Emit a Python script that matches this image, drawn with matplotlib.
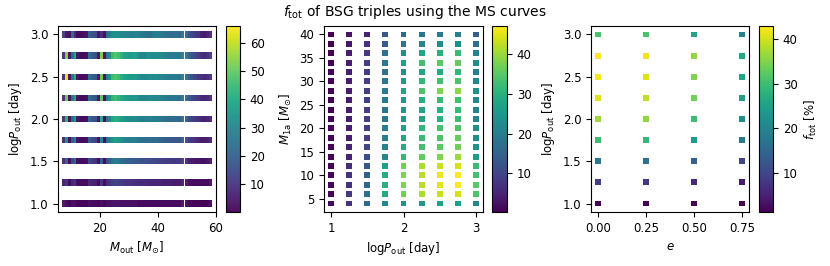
"""
ftot_triples.py
---------------
Three-panel scatter of the total fraction f_tot of BSG triples
(MS curves), against M_out, M_1a and e.
"""

import numpy as np
import matplotlib
matplotlib.use("Agg")  # headless backend
import matplotlib.pyplot as plt


# --- shared grids ------------------------------------------------------------
log_p_out = [1.0, 1.25, 1.5, 1.75, 2.0, 2.25, 2.5, 2.75, 3.0]

# --- panel 1: f_tot vs M_out for each logP_out -------------------------------
m_out = [8, 9, 10, 11, 12, 13, 14, 15, 16, 17, 18, 19, 20, 21, 22, 23,
         24, 25, 26, 27, 28, 29, 30, 31, 32, 33, 34, 35, 36, 37, 38, 39,
         40, 41, 42, 43, 44, 45, 46, 47, 48,
         50.5, 51.5, 52.5, 53.5, 54.5, 55.5, 56.5, 57.5]

f_mout_p100 = [2, 3, 1, 3, 3, 1, 1, 1, 1, 3, 2, 2, 1, 3, 1, 3,
               3, 4, 4, 4, 3, 3, 3, 3, 3, 3, 2, 2, 2, 2, 2, 2, 2, 2, 2, 2, 2, 2, 2, 2, 2,
               1, 1, 1, 1, 1, 0.5, 0.2, 0.5]
f_mout_p125 = [4, 10, 2, 8, 10, 2, 2, 2, 2, 8, 6, 6, 2, 11, 2, 9,
               10, 13, 14, 13, 12, 11, 10, 10, 9, 9, 8, 8, 8, 8, 7, 7, 7, 7, 6, 6, 6, 6, 5, 5, 5,
               3, 3, 2, 2, 2, 2, 2, 2]
f_mout_p150 = [6, 22, 2, 16, 22, 2, 2, 2, 3, 16, 11, 10, 3, 22, 2, 17,
               20, 26, 28, 26, 24, 22, 21, 20, 19, 19, 18, 17, 16, 16, 15, 15, 14, 14, 13, 13, 12, 12, 11, 11, 11,
               7, 6, 5, 4, 4, 3, 3, 4]
f_mout_p175 = [7, 34, 2, 22, 30, 3, 2, 2, 3, 22, 15, 14, 3, 32, 2, 24,
               28, 35, 37, 35, 33, 30, 29, 28, 28, 28, 26, 24, 24, 24, 24, 23, 23, 22, 21, 20, 19, 19, 18, 18, 18,
               14, 12, 10, 9, 7, 5, 5, 6]
f_mout_p200 = [8, 44, 2, 25, 36, 3, 2, 2, 3, 25, 17, 16, 4, 42, 2, 27,
               31, 40, 42, 40, 37, 34, 33, 32, 32, 33, 30, 28, 28, 29, 29, 28, 28, 27, 26, 25, 24, 23, 23, 23, 22,
               18, 15, 13, 11, 9, 7, 6, 7]
f_mout_p225 = [8, 52, 2, 27, 40, 3, 2, 2, 3, 26, 18, 17, 4, 50, 2, 29,
               33, 44, 46, 43, 40, 37, 36, 35, 35, 36, 32, 30, 30, 31, 32, 31, 31, 30, 29, 28, 27, 26, 26, 26, 25,
               21, 18, 15, 13, 10, 8, 7, 8]
f_mout_p250 = [8, 66, 2, 28, 42, 3, 2, 2, 3, 27, 19, 18, 4, 52, 2, 30,
               34, 46, 48, 45, 41, 38, 37, 36, 36, 37, 33, 31, 31, 32, 33, 32, 32, 31, 30, 29, 28, 27, 27, 27, 26,
               22, 19, 16, 14, 11, 9, 8, 9]
f_mout_p275 = [8, 55, 2, 25, 40, 3, 2, 2, 3, 26, 18, 17, 4, 54, 2, 28,
               32, 46, 49, 46, 42, 38, 37, 36, 37, 38, 33, 30, 31, 33, 33, 32, 33, 32, 31, 30, 28, 27, 27, 28, 27,
               23, 20, 17, 15, 12, 9, 8, 10]
f_mout_p300 = [10, 4, 3, 26, 8, 2, 2, 3, 4, 22, 16, 16, 4, 10, 3, 24,
               28, 33, 34, 33, 31, 30, 29, 28, 28, 29, 28, 27, 26, 24, 24, 27, 28, 27, 26, 25, 24, 23, 23, 24, 23,
               19, 17, 14, 12, 10, 6, 5, 7]

f_mout_rows = [f_mout_p100, f_mout_p125, f_mout_p150, f_mout_p175, f_mout_p200,
               f_mout_p225, f_mout_p250, f_mout_p275, f_mout_p300]

# --- panel 2: f_tot on the (logP_out, M_1a) grid -----------------------------
m_1a = [4, 6, 8, 10, 12, 14, 16, 18, 20, 22, 24, 26, 28, 30, 32, 34, 36, 38, 40]

# one row per M_1a, columns follow log_p_out
f_m1a_grid = [
    [1.5, 7, 16, 22, 24, 25, 27, 27, 22],
    [1.2, 8, 17, 29, 37, 41, 43, 44, 34],
    [1.0, 7, 16, 30, 38, 42, 45, 47, 35],
    [1.0, 7, 15, 29, 38, 42, 46, 47, 33],
    [1.0, 6, 13, 27, 37, 41, 43, 44, 32],
    [0.8, 5, 11, 22, 31, 36, 38, 40, 26],
    [0.8, 5, 10, 21, 29, 33, 35, 37, 24],
    [0.7, 4, 9, 20, 28, 32, 34, 36, 23],
    [0.7, 4, 9, 20, 27, 31, 33, 34, 23],
    [0.6, 4, 9, 19, 25, 28, 30, 32, 21],
    [0.6, 4, 9, 19, 25, 28, 30, 32, 21],
    [0.6, 4, 9, 19, 25, 30, 32, 33, 22],
    [0.5, 4, 9, 20, 28, 34, 38, 39, 24],
    [0.5, 4, 9, 19, 26, 31, 33, 34, 22],
    [0.5, 4, 9, 18, 24, 28, 29, 31, 20],
    [0.4, 4, 9, 19, 27, 33, 35, 36, 23],
    [0.4, 4, 8, 17, 23, 28, 30, 32, 21],
    [0.3, 3, 7, 14, 19, 22, 23, 23, 17],
    [0.3, 3, 5, 13, 16, 18, 19, 20, 14],
]

# --- panel 3: f_tot on the (e, logP_out) grid --------------------------------
ecc = [0.0, 0.25, 0.5, 0.75]

# one row per e, columns follow log_p_out
f_ecc_grid = [
    [1.5, 9, 18, 30, 37, 41, 42.5, 43, 31],
    [1.5, 8, 17, 29, 36, 39, 41, 42, 31],
    [1.2, 6, 14, 24, 30, 34, 35, 36, 26],
    [1.2, 4, 10, 18, 22, 25, 26, 26, 19],
]


plt.rcParams["font.size"] = 8.5
MARKER_S = 18
W, H = 830, 266


def px_axes(fig, x0, x1, y0=26, y1=212):
    """Add axes from pixel coordinates (top-left origin)."""
    return fig.add_axes([x0 / W, 1 - y1 / H, (x1 - x0) / W, (y1 - y0) / H])


fig = plt.figure(figsize=(W / 100, H / 100), dpi=100)

logp_label = r"log$P_{\rm out}$ [day]"

# panel 1
ax1 = px_axes(fig, 58, 216)
cax1 = px_axes(fig, 226, 240)
xs, ys, cs = [], [], []
for lp, row in zip(log_p_out, f_mout_rows):
    xs += m_out
    ys += [lp] * len(m_out)
    cs += row
sc1 = ax1.scatter(xs, ys, c=cs, cmap="viridis", marker="s", s=MARKER_S + 3,
                  linewidths=0, alpha=0.95)
ax1.set_xticks([20, 40, 60])
ax1.set_yticks([1.0, 1.5, 2.0, 2.5, 3.0])
ax1.set_xlabel(r"$M_{\rm out}$ [$M_{\odot}$]")
ax1.set_ylabel(logp_label)
fig.colorbar(sc1, cax=cax1)

# panel 2
ax2 = px_axes(fig, 324, 483)
cax2 = px_axes(fig, 492, 507)
grid = np.array(f_m1a_grid)
xx, yy = np.meshgrid(log_p_out, m_1a)
sc2 = ax2.scatter(xx.ravel(), yy.ravel(), c=grid.ravel(), cmap="viridis",
                  marker="s", s=MARKER_S, linewidths=0)
ax2.set_xticks([1, 2, 3])
ax2.set_yticks([5, 10, 15, 20, 25, 30, 35, 40])
ax2.set_xlabel(logp_label)
ax2.set_ylabel(r"$M_{\rm 1a}$ [$M_{\odot}$]")
fig.colorbar(sc2, cax=cax2)

# panel 3
ax3 = px_axes(fig, 591, 749)
cax3 = px_axes(fig, 759, 773)
grid = np.array(f_ecc_grid)
xx, yy = np.meshgrid(log_p_out, ecc)
sc3 = ax3.scatter(yy.ravel(), xx.ravel(), c=grid.ravel(), cmap="viridis",
                  marker="s", s=MARKER_S, linewidths=0)
ax3.set_xticks([0.0, 0.25, 0.5, 0.75])
ax3.set_yticks([1.0, 1.5, 2.0, 2.5, 3.0])
ax3.set_xlabel(r"$e$")
ax3.set_ylabel(logp_label)
cb3 = fig.colorbar(sc3, cax=cax3)
cb3.set_label(r"$f_{\rm tot}$ [%]")

fig.suptitle(r"$f_{\rm tot}$ of BSG triples using the MS curves", y=0.99, fontsize=10)

fig.savefig("out.png", dpi=100)
plt.close(fig)
